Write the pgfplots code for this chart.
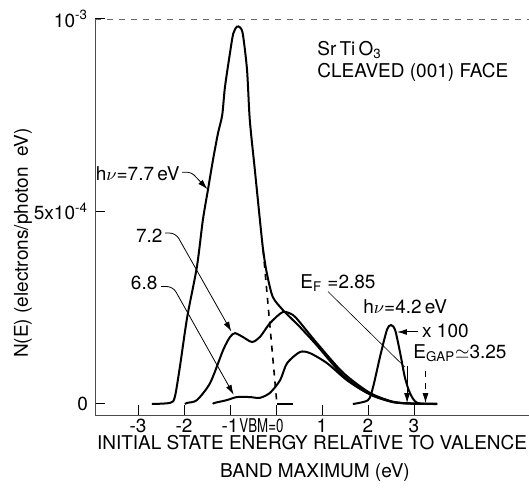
\documentclass[border=0pt]{standalone}
\usepackage{fontspec}
\setmainfont{TeX Gyre Heros}
\usepackage{graphicx}
\usepackage{pgfplots}
\pgfplotsset{compat=1.18}
\usetikzlibrary{arrows.meta}

\begin{document}
\begin{tikzpicture}[font=\fontsize{9.5}{11}\selectfont]
\begin{axis}[
  scale only axis, width=217pt, height=198pt,
  xmin=-3.935, xmax=5.5, ymin=-0.286, ymax=10,
  axis x line*=bottom, axis y line*=left,
  axis line style={black!70, line width=0.4pt},
  xtick={-3,-2,-1,0,1,2,3}, xticklabels={-3,-2,-1,,1,2,3},
  ytick={0,5,10}, yticklabels={0,5x10\textsuperscript{-4},10\textsuperscript{-3}},
  tick align=inside, major tick length=5pt,
  tick style={black, line width=0.5pt},
  xticklabel style={anchor=base, yshift=-8.5pt},
  clip=false,
  cycle list={{black,mark=none}},
  every axis plot/.append style={line width=1pt, smooth, tension=0.45},
]
% top frame line
\draw[black!60, dashed, line width=0.3pt] (rel axis cs:0,1) -- (rel axis cs:1,1);

% h nu = 7.7 eV
\addplot coordinates {
 (-2.70,0) (-2.30,0.03) (-2.20,0.18) (-2.09,0.96) (-1.93,2.26) (-1.72,3.56)
 (-1.59,4.78) (-1.48,5.56) (-1.37,6.34) (-1.26,7.04) (-1.17,7.50) (-1.11,8.23)
 (-1.00,9.12) (-0.93,9.62) (-0.85,9.80) (-0.78,9.78) (-0.72,9.60) (-0.63,8.68)
 (-0.57,7.38) (-0.46,6.08) (-0.35,4.78) (-0.28,4.00) (-0.20,3.40) (-0.07,2.78)
 (0.15,2.44) (0.30,2.26) (0.52,2.00) (0.89,1.52) (1.46,0.74) (2.04,0.25)
 (2.54,0.05) (3.00,0.01) (3.50,0)
};
% 7.2 eV
\addplot coordinates {
 (-1.98,0) (-1.93,0.03) (-1.72,0.10) (-1.43,0.55) (-1.15,1.40) (-1.00,1.74)
 (-0.89,1.84) (-0.72,1.74) (-0.52,1.61) (-0.35,1.74) (-0.13,2.10) (0.15,2.39)
 (0.37,2.31) (0.52,2.12) (0.89,1.58) (1.46,0.81) (2.04,0.29) (2.54,0.06)
 (2.98,0.01) (3.50,0)
};
% 6.8 eV
\addplot coordinates {
 (-1.37,0) (-1.33,0.03) (-1.07,0.10) (-0.85,0.18) (-0.57,0.18) (-0.35,0.16)
 (-0.13,0.29) (0.09,0.62) (0.24,1.06) (0.52,1.35) (0.74,1.32) (1.11,1.06)
 (1.54,0.62) (1.98,0.29) (2.54,0.05) (2.98,0.01) (3.50,0)
};
% 4.2 eV (x100)
\addplot coordinates {
 (1.67,0) (2.00,0.10) (2.11,0.44) (2.26,1.22) (2.41,1.92) (2.50,2.05)
 (2.59,1.92) (2.70,1.32) (2.80,0.70) (2.91,0.29) (3.07,0.03) (3.50,0)
};
% linear extrapolation to VBM
\addplot[dashed, line width=0.8pt, sharp plot] coordinates {(-0.28,4.0) (0.02,0)};
\addplot[sharp plot, line width=0.8pt] coordinates {(0.02,0) (0.37,0)};

% tick label at VBM
\node[anchor=base east, inner sep=0pt, yshift=-8.5pt] at (axis cs:0.17,-0.286) {\scalebox{0.7}[1]{VBM=0}};

% annotations
\node[anchor=east, inner sep=0pt] at (axis cs:-2.09,5.97) {h$\nu$=7.7\,eV};
\draw[line width=0.4pt, -{Latex[length=5pt,width=3pt]}, rounded corners=2pt]
  (axis cs:-2.04,6.02) -- (axis cs:-1.84,6.02) -- (axis cs:-1.49,5.58);
\node[anchor=east, inner sep=0pt] at (axis cs:-2.46,4.36) {7.2};
\draw[line width=0.4pt, -{Latex[length=5pt,width=3pt]}, rounded corners=3pt]
  (axis cs:-2.41,4.44) -- (axis cs:-2.18,4.44) -- (axis cs:-0.97,1.88);
\node[anchor=east, inner sep=0pt] at (axis cs:-2.57,3.14) {6.8};
\draw[line width=0.4pt, -{Latex[length=5pt,width=3pt]}, rounded corners=3pt]
  (axis cs:-2.50,3.05) -- (axis cs:-2.24,3.05) -- (axis cs:-0.92,0.24);

\node[anchor=base west, inner sep=0pt] at (axis cs:0.52,3.01) {E\textsubscript{F} =2.85};
\draw[line width=0.3pt] (axis cs:1.13,2.92) -- (axis cs:2.80,0.96);
\draw[line width=0.5pt, -{Latex[length=5pt,width=3pt]}] (axis cs:2.85,0.98) -- (axis cs:2.85,0.02);

\node[anchor=base west, inner sep=0pt] at (axis cs:1.89,2.36) {h$\nu$=4.2\,eV};
\node[anchor=base west, inner sep=0pt] at (axis cs:3.17,1.74) {x 100};
\draw[line width=0.5pt, -{Latex[length=5pt,width=3pt]}] (axis cs:3.08,1.87) -- (axis cs:2.63,1.87);

\node[anchor=base west, inner sep=0pt] at (axis cs:2.98,1.19) {E\textsubscript{GAP}$\simeq$3.25};
\draw[line width=0.5pt, dashed, -{Latex[length=5pt,width=3pt]}] (axis cs:3.25,0.85) -- (axis cs:3.25,0.02);

\node[anchor=base west, inner sep=0pt] at (axis cs:0.89,9.06) {Sr\,Ti\,O\textsubscript{3}};
\node[anchor=base west, inner sep=0pt] at (axis cs:0.89,8.49) {CLEAVED (001) FACE};
\end{axis}
% axis labels
\node[rotate=90] at ([xshift=-36pt,yshift=-13pt]current axis.west) {N(E) (electrons/photon\ \ eV)};
\node at ([yshift=-14pt]current axis.south) {INITIAL STATE ENERGY RELATIVE TO VALENCE};
\node at ([xshift=1.5pt,yshift=-29pt]current axis.south) {BAND MAXIMUM (eV)};
\pgfresetboundingbox
\path[use as bounding box] ([xshift=-47.5pt,yshift=-36pt]current axis.south west) rectangle ([yshift=9.5pt]current axis.north east);
\end{tikzpicture}
\end{document}
